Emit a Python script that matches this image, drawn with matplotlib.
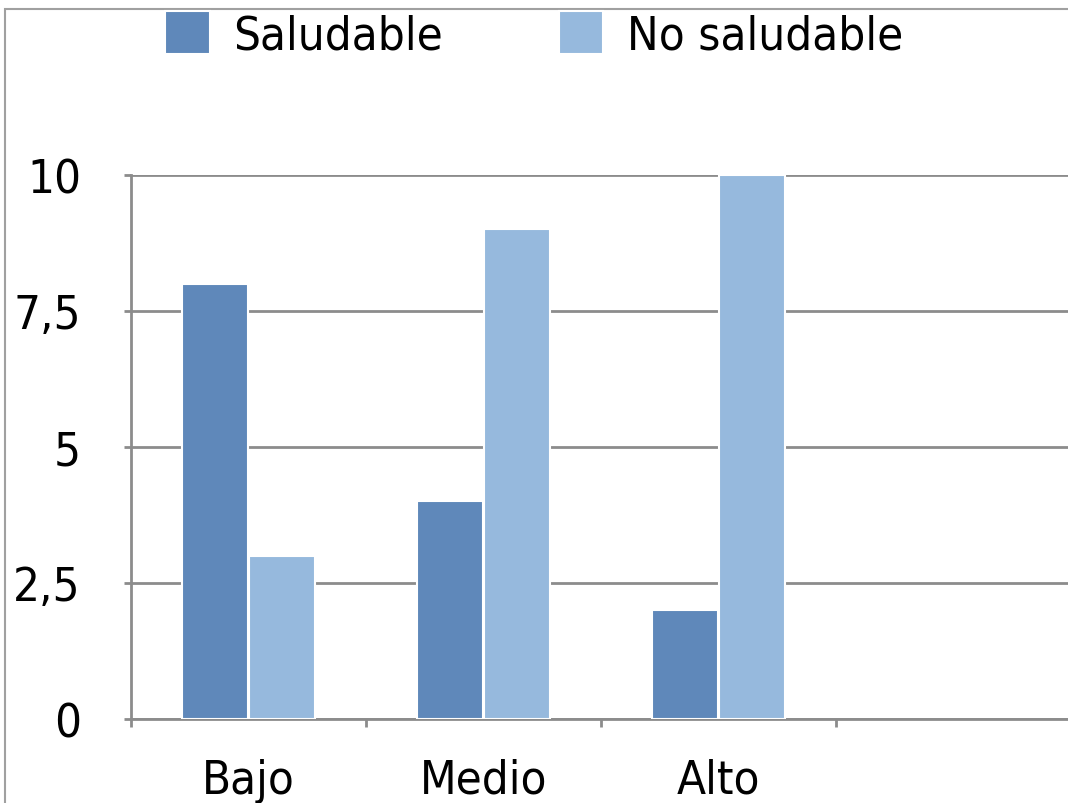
import matplotlib
matplotlib.use("Agg")
import matplotlib.pyplot as plt
import matplotlib.patches as mpatches
import numpy as np

# data
categorias = ["Bajo", "Medio", "Alto"]
saludable = [8, 4, 2]
no_saludable = [3, 9, 10]
series_labels = ["Saludable", "No saludable"]
y_ticks = [0, 2.5, 5, 7.5, 10]

color_sal = "#5f88ba"
color_no = "#96b9dd"
gris = "#8c8c8c"

plt.rcParams['font.family'] = ['DejaVu Sans']
plt.rcParams['font.stretch'] = 'condensed'
tam = 34

fig = plt.figure(figsize=(10.68, 8.04), dpi=100)

# outer chart border (partly cut off by the picture edge)
borde = mpatches.Rectangle((5 / 1068, -0.5), 2.0, 0.5 + 1 - 10 / 804,
                           transform=fig.transFigure, fill=False,
                           edgecolor="#a0a0a0", linewidth=1.5)
fig.patches.append(borde)

# axes run 4 category slots wide, the last one is empty and cut off
ax = fig.add_axes([131 / 1068, 1 - 720 / 804, 940 / 1068, (720 - 176) / 804])

centros = np.arange(len(categorias)) + 0.5
ancho = 0.28
ax.bar(centros - 0.143, saludable, width=ancho, color=color_sal,
       edgecolor="white", linewidth=1.5, zorder=3, label=series_labels[0])
ax.bar(centros + 0.143, no_saludable, width=ancho, color=color_no,
       edgecolor="white", linewidth=1.5, zorder=3, label=series_labels[1])

ax.set_xlim(0, 4)
ax.set_ylim(0, 10)

# y axis
ax.set_yticks(y_ticks)
ax.set_yticklabels([("%g" % v).replace(".", ",") for v in y_ticks])
ax.yaxis.grid(True, color=gris, linewidth=2, zorder=0)
ax.tick_params(axis="y", length=5, width=2, color=gris, pad=31, labelsize=tam)

# x axis: ticks at slot boundaries, labels at slot centers
ax.set_xticks([0, 1, 2, 3])
ax.set_xticklabels([])
ax.set_xticks(centros, minor=True)
ax.set_xticklabels(categorias, minor=True)
ax.tick_params(axis="x", which="major", length=6, width=2, color=gris)
ax.tick_params(axis="x", which="minor", length=0, pad=28, labelsize=tam)

for lado in ["top", "right"]:
    ax.spines[lado].set_visible(False)
for lado in ["left", "bottom"]:
    ax.spines[lado].set_color(gris)
    ax.spines[lado].set_linewidth(2)
ax.set_axisbelow(True)

fig.legend(loc="center", bbox_to_anchor=(0.5, 1 - 36 / 804), ncol=2,
           frameon=False, fontsize=tam, handlelength=0.95, handleheight=1.0,
           handletextpad=0.5, columnspacing=2.45)

fig.savefig("out.png", dpi=100)
